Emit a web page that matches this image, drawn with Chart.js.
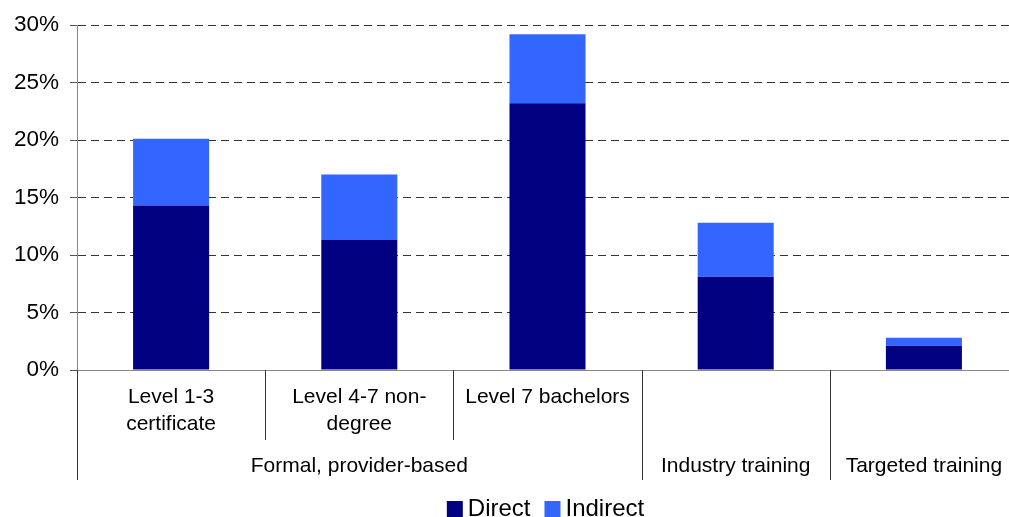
<!DOCTYPE html>
<html>
<head>
<meta charset="utf-8">
<script src="https://cdn.jsdelivr.net/npm/chart.js@4/dist/chart.umd.min.js"></script>
<style>
  html, body { margin: 0; padding: 0; background: #fff; overflow: hidden; }
  #wrap { width: 1018px; height: 517px; }
</style>
</head>
<body>
<div id="wrap"><canvas id="barChart"></canvas></div>
<script>
// data
const categories = [['Level 1-3', 'certificate'], ['Level 4-7 non-', 'degree'], ['Level 7 bachelors'], [], []];
const groups = ['Formal, provider-based', 'Industry training', 'Targeted training'];
const groupSpans = [3, 1, 1];
const direct = [14.3, 11.3, 23.2, 8.1, 2.1];
const indirect = [5.8, 5.7, 6.0, 4.7, 0.7];
const yTicks = [0, 5, 10, 15, 20, 25, 30];

const FONT = "'Liberation Sans', Arial, sans-serif";

// two-level category labels, divider lines under the x axis, legend at the bottom
const groupLabels = {
  id: 'groupLabels',
  afterDraw(chart) {
    const ctx = chart.ctx;
    const x = chart.scales.x;
    const area = chart.chartArea;
    const bottom = area.bottom;
    const half = (x.getPixelForValue(1) - x.getPixelForValue(0)) / 2;
    ctx.save();
    ctx.font = '21px ' + FONT;
    ctx.fillStyle = '#000';
    ctx.textAlign = 'center';
    ctx.textBaseline = 'middle';
    categories.forEach(function(lines, i) {
      const cx = x.getPixelForValue(i);
      lines.forEach(function(t, j) {
        ctx.fillText(t, cx, bottom + 27 + j * 27);
      });
    });
    ctx.strokeStyle = '#333';
    ctx.lineWidth = 1;
    let start = 0;
    groupSpans.forEach(function(span, g) {
      const left = x.getPixelForValue(start) - half;
      const right = x.getPixelForValue(start + span - 1) + half;
      ctx.fillText(groups[g], (left + right) / 2, bottom + 96);
      for (let k = 1; k < span; k++) {
        const px = Math.round(x.getPixelForValue(start + k) - half) + 0.5;
        ctx.beginPath();
        ctx.moveTo(px, bottom);
        ctx.lineTo(px, bottom + 70);
        ctx.stroke();
      }
      [left, right].forEach(function(p) {
        const px = Math.round(p) + 0.5;
        ctx.beginPath();
        ctx.moveTo(px, bottom);
        ctx.lineTo(px, bottom + 110);
        ctx.stroke();
      });
      start += span;
    });

    // legend
    const sets = chart.data.datasets;
    const box = 16, gap = 5, between = 14;
    ctx.font = '24px ' + FONT;
    ctx.textAlign = 'left';
    let total = 0;
    sets.forEach(function(ds, i) {
      total += box + gap + ctx.measureText(ds.label).width + (i ? between : 0);
    });
    let lx = (area.left + area.right) / 2 - total / 2 - 2;
    sets.forEach(function(ds) {
      ctx.fillStyle = ds.backgroundColor;
      ctx.fillRect(lx, 501, box, box);
      ctx.fillStyle = '#000';
      ctx.fillText(ds.label, lx + box + gap, 509);
      lx += box + gap + ctx.measureText(ds.label).width + between;
    });
    ctx.restore();
  }
};

const ctx = document.getElementById('barChart').getContext('2d');
new Chart(ctx, {
  type: 'bar',
  data: {
    labels: categories.map(function(c, i) { return c.length ? c.join(' ') : groups[i - 2]; }),
    datasets: [{
      label: 'Direct',
      data: direct,
      backgroundColor: '#000080'
    }, {
      label: 'Indirect',
      data: indirect,
      backgroundColor: '#3366ff'
    }]
  },
  options: {
    responsive: true,
    maintainAspectRatio: false,
    animation: false,
    categoryPercentage: 1,
    barPercentage: 0.404,
    layout: { padding: { top: 25, left: 0, right: 0, bottom: 0 } },
    plugins: {
      legend: { display: false },
      tooltip: { enabled: false }
    },
    scales: {
      x: {
        stacked: true,
        grid: { display: false },
        border: { color: '#888', width: 1 },
        ticks: { display: false },
        afterFit: function(scale) { scale.height = 147; }
      },
      y: {
        stacked: true,
        min: 0,
        max: 30,
        afterBuildTicks: function(scale) {
          scale.ticks = yTicks.map(function(v) { return { value: v }; });
        },
        afterFit: function(scale) { scale.width = 77; },
        ticks: {
          font: { family: FONT, size: 22.5 },
          color: '#000',
          padding: 11,
          callback: function(v) { return v + '%'; }
        },
        grid: {
          color: function(c) { return c.tick && c.tick.value === 0 ? 'rgba(0,0,0,0)' : '#333'; },
          tickColor: '#555',
          tickLength: 7
        },
        border: { color: '#888', width: 1, dash: [8, 5] }
      }
    }
  },
  plugins: [groupLabels]
});
</script>
</body>
</html>
